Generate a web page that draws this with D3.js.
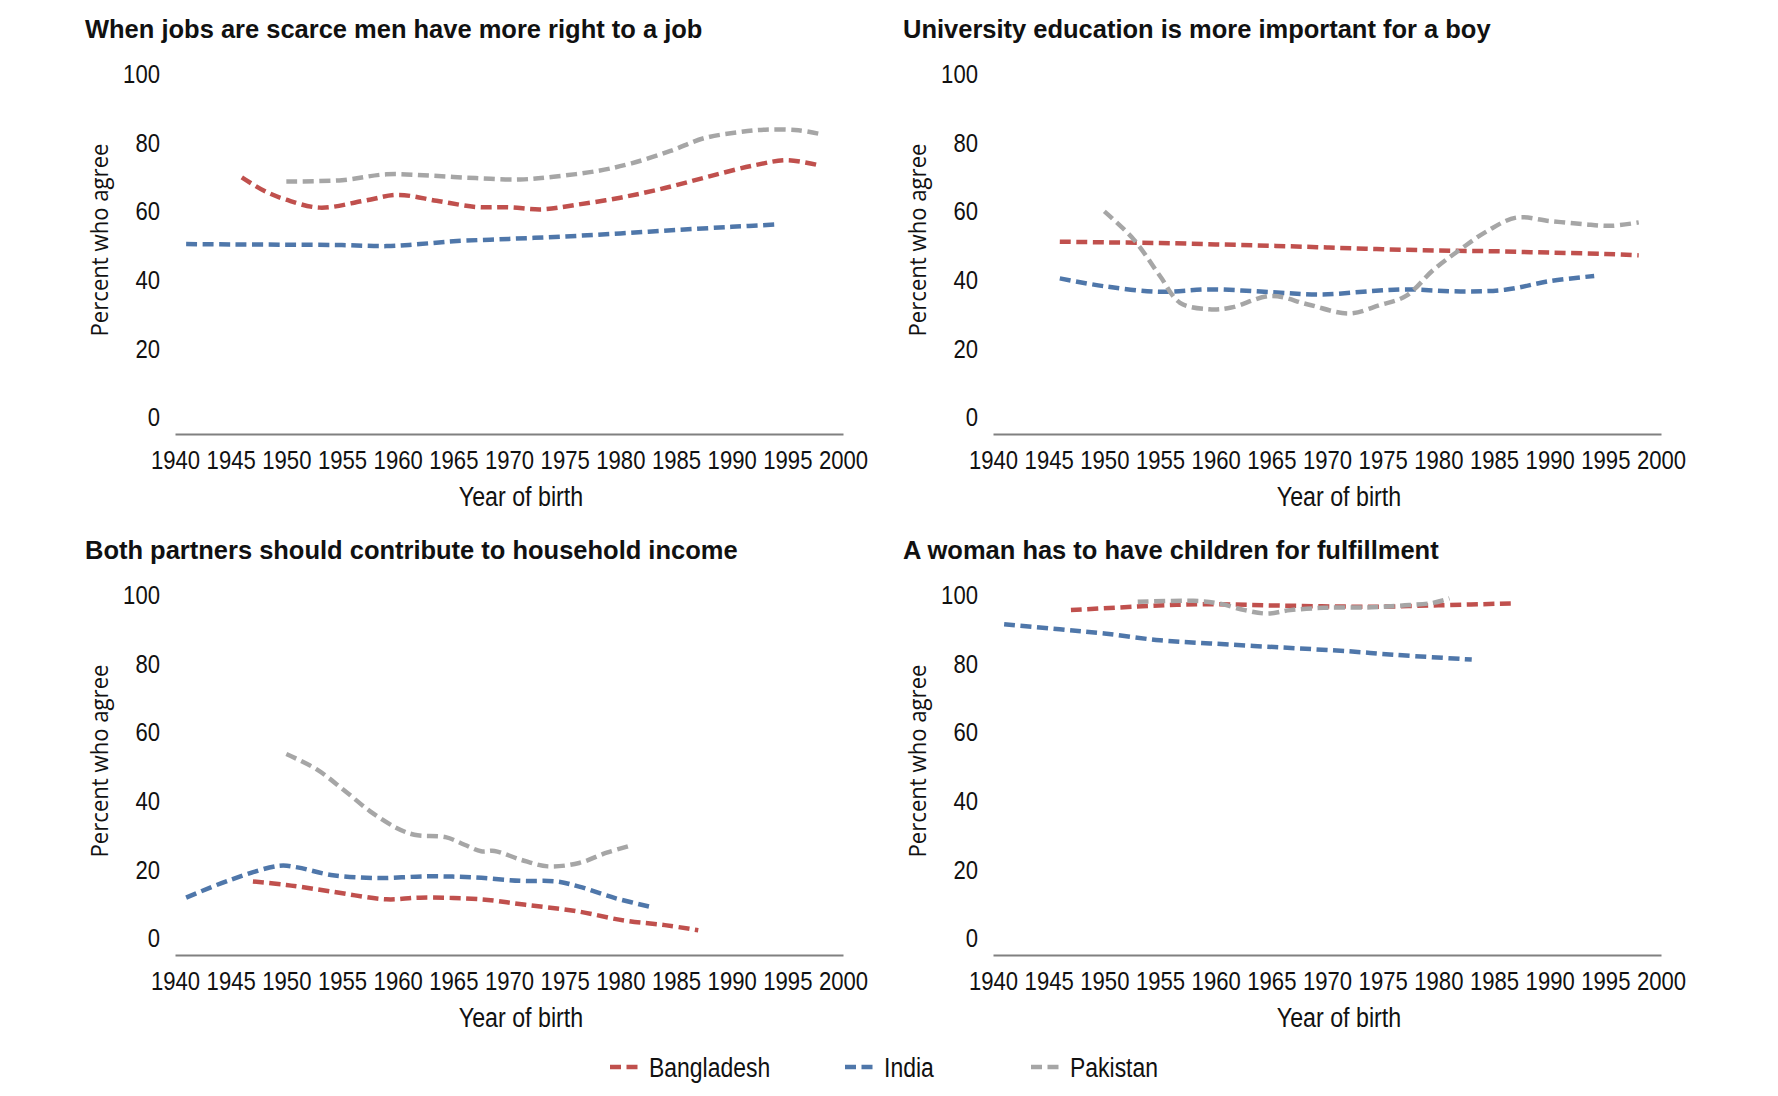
<html lang="en">
  <head>
    <meta charset="utf-8">
    <script src="https://d3js.org/d3.v7.js"></script>
    <style>
      body { margin: 0; background: #fff; }
      text { font-family: "Liberation Sans", Arial, sans-serif; fill: #111; }
    </style>
  </head>
  <body>
    <svg id="chart" width="1778" height="1096"></svg>
    <script>
      // series values: [year of birth, percent who agree]
      var jobsBangladesh = [[1946,69.9],[1948,66.0],[1950,63.4],[1953,61.1],[1957,63.1],[1960,64.8],[1963.5,63.1],[1967,61.3],[1970,61.2],[1973,60.6],[1976,61.9],[1980,64],[1984,66.8],[1988,70.2],[1992,73.4],[1995,74.9],[1998,73.3]];
      var jobsIndia = [[1941,50.5],[1945,50.4],[1950,50.3],[1955,50.2],[1959,49.9],[1962,50.5],[1965,51.3],[1970,52],[1975,52.7],[1980,53.6],[1985,54.6],[1990,55.5],[1994,56.2]];
      var jobsPakistan = [[1950,68.7],[1955,69.1],[1959,70.8],[1963,70.4],[1967,69.7],[1971,69.3],[1974,70.1],[1978,71.8],[1981,74],[1984.5,77.6],[1987.5,81.3],[1990.5,83],[1993,83.8],[1996,83.6],[1998,82.5]];

      var uniBangladesh = [[1946,51.2],[1950,51],[1955,50.8],[1960,50.4],[1965,50],[1970,49.5],[1975,49],[1980,48.6],[1985,48.4],[1990,48],[1995,47.6],[1998,47.2]];
      var uniIndia = [[1946,40.5],[1950,38.2],[1955,36.6],[1959.5,37.3],[1965,36.5],[1969.5,35.8],[1974,36.8],[1977,37.3],[1982,36.7],[1986,37.2],[1990,39.7],[1994,41.2]];
      var uniPakistan = [[1950,60],[1952.6,52],[1955,41.2],[1956.8,33.4],[1959.4,31.5],[1961.4,32],[1965,35.4],[1968.3,32.9],[1972,30.3],[1974.7,32.7],[1977.1,35.4],[1979.6,43.1],[1982,49],[1984.4,54.3],[1987,58.2],[1990,57.2],[1993,56.3],[1995.5,55.8],[1998,56.8]];

      var incomeBangladesh = [[1947,16.6],[1950,15.6],[1954,13.7],[1959,11.4],[1962,11.9],[1967.5,11.4],[1971.5,9.8],[1976,8],[1980.4,5.2],[1984,3.9],[1987,2.4]];
      var incomeIndia = [[1941,11.9],[1945,17.1],[1949.4,21.2],[1951,20.7],[1954,18.5],[1958,17.6],[1962.7,18.1],[1966.7,17.8],[1971,16.8],[1974.3,16.6],[1976.3,15.1],[1979.6,11.7],[1983,9]];
      var incomePakistan = [[1950,53.7],[1952.7,49.3],[1955.1,43.4],[1957.5,37.1],[1959.9,32.2],[1961.5,30.2],[1964.3,29.5],[1966,27.3],[1967.5,25.4],[1968.7,25.5],[1971.1,22.9],[1973.5,21],[1976.3,22],[1978.7,24.9],[1981,27.1]];

      var childBangladesh = [[1947,95.6],[1954,96.8],[1959,97.3],[1966,96.9],[1974,96.6],[1980,97],[1987,97.6]];
      var childIndia = [[1941,91.5],[1946,90],[1950,88.8],[1955,86.8],[1959.5,85.9],[1966,84.7],[1972,83.6],[1976,82.6],[1983,81.2]];
      var childPakistan = [[1953,98],[1958,98.3],[1960.2,97.6],[1962.6,95.6],[1964.6,94.6],[1966.7,95.6],[1970,96.3],[1974,96.4],[1977,97],[1979.5,97.7],[1981,99]];

      var countries = ["Bangladesh", "India", "Pakistan"];
      var titles = [
        "When jobs are scarce men have more right to a job",
        "University education is more important for a boy",
        "Both partners should contribute to household income",
        "A woman has to have children for fulfillment"
      ];
      var xTicks = [1940, 1945, 1950, 1955, 1960, 1965, 1970, 1975, 1980, 1985, 1990, 1995, 2000];
      var yTicks = [0, 20, 40, 60, 80, 100];

      var colors = {Bangladesh: "#c0504d", India: "#4f77aa", Pakistan: "#a6a6a6"};

      var panelSeries = [
        [jobsBangladesh, jobsIndia, jobsPakistan],
        [uniBangladesh, uniIndia, uniPakistan],
        [incomeBangladesh, incomeIndia, incomePakistan],
        [childBangladesh, childIndia, childPakistan]
      ];

      // no narrow font installed, so squeeze the glyphs of the condensed-looking texts
      function squeeze(sel, f) {
        sel.each(function() {
          var w = this.getComputedTextLength();
          d3.select(this).attr("textLength", w * f).attr("lengthAdjust", "spacingAndGlyphs");
        });
      }

      var svg = d3.select("svg#chart");

      var plotW = 668, plotH = 360;
      var origins = [{left: 175, top: 74}, {left: 993, top: 74}, {left: 175, top: 595}, {left: 993, top: 595}];

      panelSeries.forEach(function(series, i) {
        var o = origins[i];
        var g = svg.append("g").attr("transform", `translate(${o.left}, ${o.top})`);

        var xScale = d3.scaleLinear().domain([1940, 2000]).range([0, plotW]);
        var yScale = d3.scaleLinear().domain([-4.8, 100]).range([plotH, 0]);

        var line = d3.line()
          .x(d => xScale(d[0]))
          .y(d => yScale(d[1]))
          .curve(d3.curveCatmullRom.alpha(0.5));

        // title
        g.append("text")
          .attr("x", -90)
          .attr("y", -36)
          .attr("font-size", 26)
          .attr("font-weight", "bold")
          .text(titles[i])
          .call(squeeze, 0.98);

        // y axis, labels only
        var yAxis = g.append("g")
          .call(d3.axisLeft(yScale).tickValues(yTicks).tickSize(0).tickPadding(15));
        yAxis.select(".domain").remove();
        yAxis.selectAll("text")
          .attr("font-family", null)
          .attr("font-size", 26)
          .call(squeeze, 0.85);

        // x axis
        var xAxis = g.append("g")
          .attr("transform", `translate(0, ${plotH})`)
          .call(d3.axisBottom(xScale).tickValues(xTicks).tickFormat(d3.format("d")).tickSize(0).tickPadding(17));
        xAxis.select(".domain")
          .attr("stroke", "#808080")
          .attr("stroke-width", 2);
        xAxis.selectAll("text")
          .attr("font-size", 26)
          .call(squeeze, 0.85);

        g.append("text")
          .attr("x", plotW / 2 + 12)
          .attr("y", plotH + 72)
          .attr("text-anchor", "middle")
          .attr("font-size", 27)
          .text("Year of birth")
          .call(squeeze, 0.86);

        g.append("text")
          .attr("transform", `translate(-67, 166) rotate(-90)`)
          .attr("text-anchor", "middle")
          .style("font-family", "'Open Sans', sans-serif")
          .attr("font-size", 23)
          .attr("textLength", 193)
          .attr("lengthAdjust", "spacingAndGlyphs")
          .text("Percent who agree");

        series.forEach(function(data, k) {
          g.append("path")
            .datum(data)
            .attr("d", line)
            .attr("fill", "none")
            .attr("stroke", colors[countries[k]])
            .attr("stroke-width", 4.5)
            .attr("stroke-dasharray", "11,5.5");
        });
      });

      // legend
      var legendX = [610, 845, 1031];
      var legend = svg.append("g");
      countries.forEach(function(c, k) {
        legend.append("line")
          .attr("x1", legendX[k])
          .attr("x2", legendX[k] + 27.5)
          .attr("y1", 1067)
          .attr("y2", 1067)
          .attr("stroke", colors[c])
          .attr("stroke-width", 4.5)
          .attr("stroke-dasharray", "11,5.5");
        legend.append("text")
          .attr("x", legendX[k] + 39)
          .attr("y", 1077)
          .attr("font-size", 27)
          .text(c)
          .call(squeeze, 0.85);
      });
    </script>
  </body>
</html>
